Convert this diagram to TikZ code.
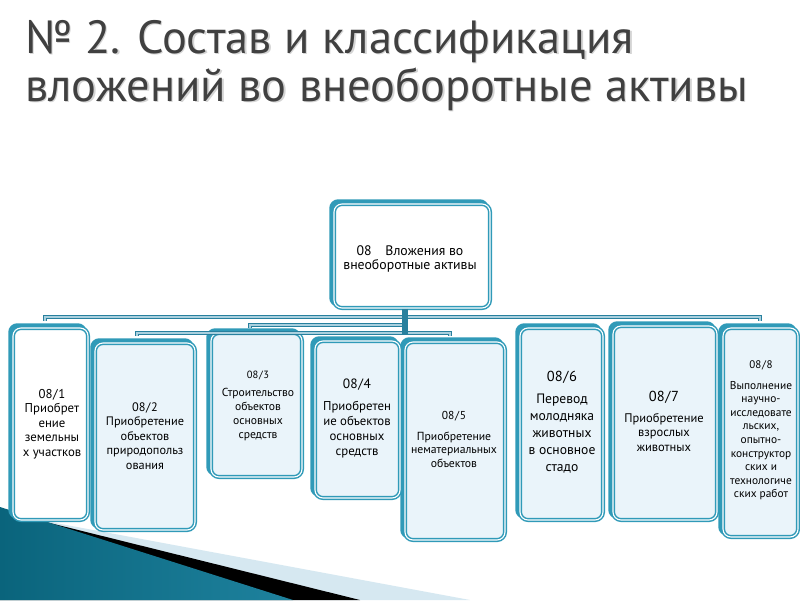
\documentclass[tikz,border=0pt]{standalone}
\usepackage{fontspec}
\setmainfont{PT Sans}
\usetikzlibrary{backgrounds}
\definecolor{framecol}{RGB}{48,154,184}
\definecolor{boxfill}{RGB}{234,244,250}
\definecolor{barcol}{RGB}{40,128,158}
\definecolor{barhi}{RGB}{170,208,222}
\definecolor{titlecol}{RGB}{64,64,64}
\definecolor{titleshade}{RGB}{212,212,212}
\definecolor{tealdark}{RGB}{10,100,124}
\definecolor{teallight}{RGB}{84,180,210}
\definecolor{tealmid}{RGB}{30,130,158}
\definecolor{bandcol}{RGB}{214,232,241}
\begin{document}
\begin{tikzpicture}[x=1pt,y=-1pt,
  box/.style={draw=framecol, line width=1.5pt, double=white, double distance=1.1pt,
    rounded corners=8pt, fill=boxfill, inner sep=0pt},
  backframe/.style={draw=framecol, fill=framecol, line width=2pt, rounded corners=8pt},
  txt/.style={align=center, inner sep=0pt, text=black},
  bus/.style={draw=barcol, line width=1.4pt, double=barhi, double distance=1.1pt},
  stemline/.style={draw=barcol, line width=6pt},
  titletext/.style={anchor=base west, font={\fontsize{46.5}{52}\selectfont}, text=titlecol, inner sep=0pt},
  titleshadow/.style={anchor=base west, font={\fontsize{46.5}{52}\selectfont}, text=titleshade, inner sep=0pt},
]
\useasboundingbox (0,0) rectangle (800,600);

% title
\node[titleshadow] (t1s) at (26.5,54.5) {№ 2. Состав и классификация};
\node[titleshadow] (t2s) at (26.5,102.5) {вложений во внеоборотные активы};
\node[titletext] (t1) at (25,53) {№ 2. Состав и классификация};
\node[titletext] (t2) at (25,101) {вложений во внеоборотные активы};

% boxes
\node[box, fill=white, minimum width=156pt, minimum height=104pt] (b0) at (412,256) {};
\node[box, fill=white, minimum width=75pt, minimum height=192pt] (b1) at (50.5,424) {};
\node[box, minimum width=100pt, minimum height=187pt] (b2) at (145,436.5) {};
\node[box, minimum width=91pt, minimum height=144pt] (b3) at (256.5,405) {};
\node[box, minimum width=85pt, minimum height=157pt] (b4) at (357.5,419.5) {};
\node[box, minimum width=100pt, minimum height=198pt] (b5) at (455,441) {};
\node[box, minimum width=83pt, minimum height=192pt] (b6) at (561.5,424) {};
\node[box, minimum width=104pt, minimum height=194pt] (b7) at (665,423) {};
\node[box, minimum width=75pt, minimum height=209pt] (b8) at (760.5,432.5) {};

% texts
\node[txt, font={\fontsize{13.8}{14.5}\selectfont}] (x0) at (410,259)
  {08\quad Вложения во\\внеоборотные активы};
\node[txt, font={\fontsize{12.8}{14.5}\selectfont}] (x1) at (52,424)
  {08\kern.6pt/\kern.6pt1\\Приобрет\\ение\\земельны\\х участков};
\node[txt, font={\fontsize{12.3}{14.5}\selectfont}] (x2) at (145,436)
  {08\kern.6pt/\kern.6pt2\\Приобретение\\объектов\\природопольз\\ования};
\node[txt, font={\fontsize{10.5}{12}\selectfont}] (n3) at (258,375) {08\kern.6pt/\kern.6pt3};
\node[txt, font={\fontsize{11.6}{14.3}\selectfont}] (x3) at (258,414.5)
  {Строительство\\объектов\\основных\\средств};
\node[txt, font={\fontsize{13.5}{15}\selectfont}] (n4) at (357,385) {08\kern.6pt/\kern.6pt4};
\node[txt, font={\fontsize{12.8}{15}\selectfont}] (x4) at (357,429.5)
  {Приобретен\\ие объектов\\основных\\средств};
\node[txt, font={\fontsize{11.5}{13}\selectfont}] (n5) at (454,416) {08\kern.6pt/\kern.6pt5};
\node[txt, font={\fontsize{11.7}{13.5}\selectfont}] (x5) at (454,449.5)
  {Приобретение\\нематериальных\\объектов};
\node[txt, font={\fontsize{14.5}{16}\selectfont}] (n6) at (562,377) {08\kern.6pt/\kern.6pt6};
\node[txt, font={\fontsize{13.6}{17}\selectfont}] (x6) at (562,434)
  {Перевод\\молодняка\\животных\\в основное\\стадо};
\node[txt, font={\fontsize{14.5}{16}\selectfont}] (n7) at (664,397) {08\kern.6pt/\kern.6pt7};
\node[txt, font={\fontsize{12.5}{14.5}\selectfont}] (x7) at (664,432.5)
  {Приобретение\\взрослых\\животных};
\node[txt, font={\fontsize{11}{12}\selectfont}] (n8) at (761,365) {08\kern.6pt/\kern.6pt8};
\node[txt, font={\fontsize{11.4}{13.6}\selectfont}] (x8) at (761,440.5)
  {Выполнение\\научно-\\исследовате\\льских,\\опытно-\\конструктор\\ских и\\технологиче\\ских работ};

% connectors
\coordinate (jA) at (405,317);
\coordinate (jB) at (405,325);
\coordinate (jC) at (405,333);
\coordinate (aL) at (45,321);
\coordinate (aR) at (760,321);
\coordinate (bL) at (250,328);
\coordinate (cL) at (137,336);
\coordinate (cR) at (450,336);
\draw[bus] (aL) -- (aL |- jA) -- (aR |- jA) -- (aR);
\draw[bus] (bL) -- (bL |- jB) -- (jB);
\draw[bus] (cL) -- (cL |- jC) -- (cR |- jC) -- (cR);
\draw[stemline] ([xshift=-7pt]b0.south) -- ([yshift=-1pt]jC);

\begin{scope}[on background layer]
  \fill[white] (0,0) rectangle (800,600);
  % bottom-left decoration
  \fill[bandcol] (0,512.7) -- (470,600) -- (0,600) -- cycle;
  \fill[black] (0,510.6) -- (360,600) -- (0,600) -- cycle;
  \shade[left color=tealdark, middle color=teallight, right color=tealmid]
    (0,507) -- (293,600) -- (0,600) -- cycle;
  % back frames
  \foreach \n in {b0,b1,b2,b3,b4,b5,b6,b7,b8}
    \draw[backframe] ([shift={(-3,-3)}]\n.north west) rectangle ([shift={(-3,-3)}]\n.south east);
\end{scope}
\end{tikzpicture}
\end{document}
